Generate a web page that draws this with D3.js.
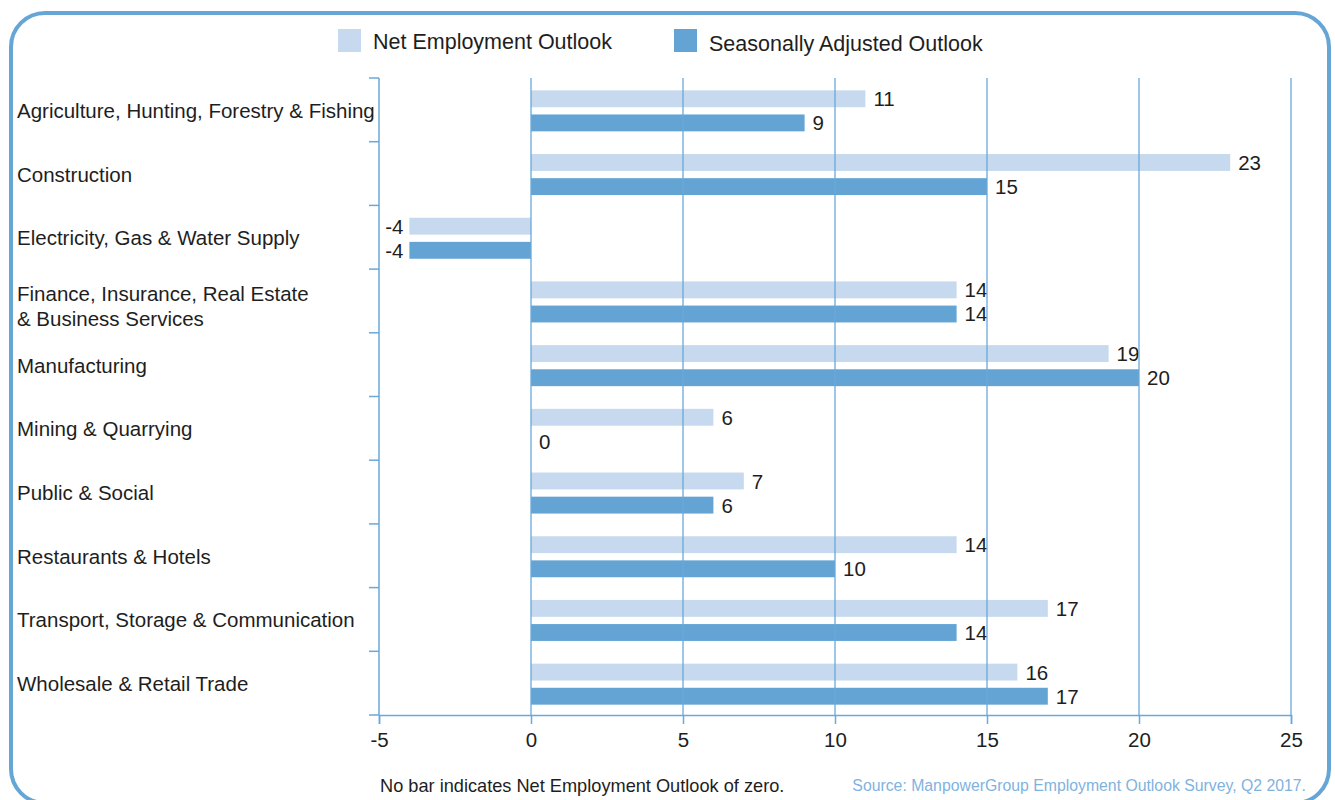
<!DOCTYPE html>
<html>
<head>
<meta charset="utf-8">
<script src="https://cdn.jsdelivr.net/npm/d3@7"></script>
<style>
  html, body { margin: 0; padding: 0; background: #fff; }
  svg { display: block; font-family: "Liberation Sans", Arial, sans-serif; }
</style>
</head>
<body>
<svg id="chart" width="1335" height="800"></svg>
<script>
// ─── Data ──────────────────────────────────────────────────────
const categories = [
  ["Agriculture, Hunting, Forestry & Fishing"],
  ["Construction"],
  ["Electricity, Gas & Water Supply"],
  ["Finance, Insurance, Real Estate", "& Business Services"],
  ["Manufacturing"],
  ["Mining & Quarrying"],
  ["Public & Social"],
  ["Restaurants & Hotels"],
  ["Transport, Storage & Communication"],
  ["Wholesale & Retail Trade"]
];
const netOutlook = [11, 23, -4, 14, 19, 6, 7, 14, 17, 16];
const seasonalOutlook = [9, 15, -4, 14, 20, 0, 6, 10, 14, 17];
const xTicks = [-5, 0, 5, 10, 15, 20, 25];
const seriesNames = ["Net Employment Outlook", "Seasonally Adjusted Outlook"];

// ─── Setup ─────────────────────────────────────────────────────
const C_LIGHT = "#c6d9ee";
const C_DARK = "#63a4d4";
const C_AXIS = "#6aa8d9";
const C_TEXT = "#1e1e1e";

const svg = d3.select("#chart");

svg.append("rect")
  .attr("x", 11).attr("y", 13)
  .attr("width", 1318).attr("height", 790)
  .attr("rx", 34).attr("ry", 34)
  .attr("fill", "none").attr("stroke", "#66a6d6").attr("stroke-width", 4);

const x = d3.scaleLinear().domain([-5, 25]).range([379, 1291]);
const keys = categories.map((d, i) => i);
const y = d3.scaleBand().domain(keys).range([78, 715]).padding(0);
const sub = d3.scaleBand().domain([0, 1]).range([0, 41]).paddingInner(0.3);

const rows = keys.map((i) => ({ i, values: [netOutlook[i], seasonalOutlook[i]] }));

// ─── Bars ──────────────────────────────────────────────────────
const rowG = svg.append("g").selectAll("g")
  .data(rows)
  .join("g")
  .attr("transform", (d) => `translate(0,${y(d.i) + y.bandwidth() / 2 - 19.5})`);

rowG.selectAll("rect")
  .data((d) => d.values.map((v, k) => ({ v, k })))
  .join("rect")
  .attr("x", (d) => x(Math.min(0, d.v)))
  .attr("y", (d) => sub(d.k))
  .attr("width", (d) => Math.abs(x(d.v) - x(0)))
  .attr("height", sub.bandwidth())
  .attr("fill", (d) => (d.k === 0 ? C_LIGHT : C_DARK));

rowG.selectAll("text")
  .data((d) => d.values.map((v, k) => ({ v, k })))
  .join("text")
  .attr("x", (d) => (d.v < 0 ? x(d.v) - 6 : x(d.v) + 8))
  .attr("y", (d) => sub(d.k) + sub.bandwidth() / 2 + 7.5)
  .attr("text-anchor", (d) => (d.v < 0 ? "end" : "start"))
  .attr("font-size", 20.5)
  .attr("fill", C_TEXT)
  .text((d) => d.v);

// ─── Grid + axes ───────────────────────────────────────────────
svg.append("g").selectAll("line")
  .data(xTicks.filter((t) => t > -5))
  .join("line")
  .attr("x1", (d) => x(d)).attr("x2", (d) => x(d))
  .attr("y1", 78).attr("y2", 715)
  .attr("stroke", C_AXIS).attr("stroke-width", 1.3);

const xAxis = svg.append("g")
  .attr("transform", "translate(0,715)")
  .call(d3.axisBottom(x).tickValues(xTicks).tickSize(9).tickPadding(8).tickFormat(d3.format("d")));
xAxis.select(".domain").attr("stroke", C_AXIS).attr("stroke-width", 1.5);
xAxis.selectAll(".tick line").attr("stroke", C_AXIS).attr("stroke-width", 1.5);
xAxis.selectAll(".tick text")
  .attr("font-size", 20.5).attr("fill", C_TEXT)
  .attr("font-family", "'Liberation Sans', Arial, sans-serif")
  .text((d) => (d < 0 ? "-" + Math.abs(d) : d));

const bounds = keys.map((i) => y(i)).concat([715]);
svg.append("line")
  .attr("x1", x(-5)).attr("x2", x(-5))
  .attr("y1", 78).attr("y2", 715)
  .attr("stroke", C_AXIS).attr("stroke-width", 1.5);
svg.append("g").selectAll("line")
  .data(bounds)
  .join("line")
  .attr("x1", x(-5) - 10).attr("x2", x(-5))
  .attr("y1", (d) => d).attr("y2", (d) => d)
  .attr("stroke", C_AXIS).attr("stroke-width", 1.5);

// ─── Category labels ───────────────────────────────────────────
svg.append("g").selectAll("text")
  .data(rows)
  .join("text")
  .attr("x", 17)
  .attr("y", (d) => y(d.i) + y.bandwidth() / 2 + 8 - (categories[d.i].length - 1) * 8)
  .attr("font-size", 20.5)
  .attr("fill", C_TEXT)
  .selectAll("tspan")
  .data((d) => categories[d.i])
  .join("tspan")
  .attr("x", 17)
  .attr("dy", (d, k) => (k === 0 ? 0 : 25))
  .text((d) => d);

// ─── Legend ────────────────────────────────────────────────────
const legendX = [338, 674];
const legend = svg.append("g").selectAll("g")
  .data(seriesNames)
  .join("g")
  .attr("transform", (d, k) => `translate(${legendX[k]},29)`);
legend.append("rect")
  .attr("width", 23).attr("height", 23)
  .attr("fill", (d, k) => (k === 0 ? C_LIGHT : C_DARK));
legend.append("text")
  .attr("x", 35).attr("y", (d, k) => 20 + k * 2)
  .attr("font-size", 21.5).attr("fill", C_TEXT)
  .text((d) => d);

// ─── Footer ────────────────────────────────────────────────────
svg.append("text")
  .attr("x", 380).attr("y", 792)
  .attr("font-size", 18.2).attr("fill", C_TEXT)
  .text("No bar indicates Net Employment Outlook of zero.");
svg.append("text")
  .attr("x", 1306).attr("y", 791)
  .attr("text-anchor", "end")
  .attr("font-size", 15.8).attr("fill", "#7fb3de")
  .text("Source: ManpowerGroup Employment Outlook Survey, Q2 2017.");
</script>
</body>
</html>
